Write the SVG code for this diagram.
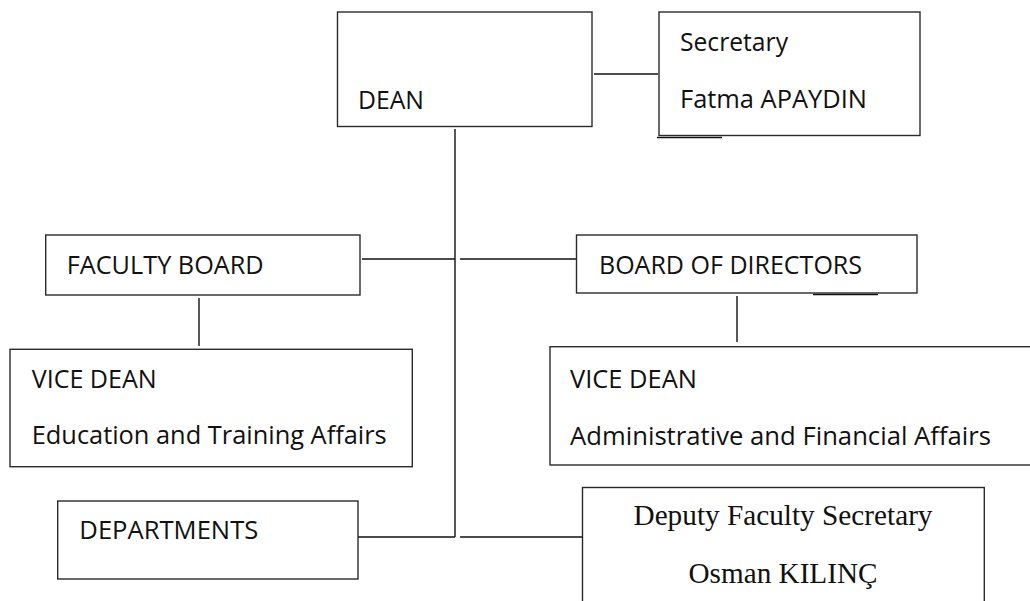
<svg xmlns="http://www.w3.org/2000/svg" width="1030" height="601" viewBox="0 0 1030 601">
<style>
.box{fill:#fff;stroke:#2a2a2a;stroke-width:1.4}
.ln{stroke:#111;stroke-width:1.4;fill:none}
.t{font-family:"Open Sans","Noto Sans","Liberation Sans",sans-serif;font-size:25px;fill:#111}
.s{font-family:"Liberation Serif","Times New Roman",serif;font-size:29px;fill:#111;text-anchor:middle}
</style>
<rect width="1030" height="601" fill="#fff"/>
<g id="connectors">
<line class="ln" x1="594" y1="74" x2="658" y2="74"/>
<line class="ln" x1="455" y1="129" x2="455" y2="537"/>
<line class="ln" x1="362" y1="259" x2="455" y2="259"/>
<line class="ln" x1="460" y1="259" x2="576" y2="259"/>
<line class="ln" x1="199" y1="298" x2="199" y2="346"/>
<line class="ln" x1="737" y1="296" x2="737" y2="342"/>
<line class="ln" x1="358" y1="537" x2="455" y2="537"/>
<line class="ln" x1="460" y1="537" x2="585" y2="537"/>
<line class="ln" x1="657" y1="137.5" x2="722" y2="137.5"/>
<line class="ln" x1="813" y1="294.5" x2="878" y2="294.5"/>
</g>
<g id="dean">
<rect class="box" x="337.5" y="12" width="254.5" height="114.5"/>
<text class="t" x="358" y="109" textLength="66" lengthAdjust="spacingAndGlyphs">DEAN</text>
</g>
<g id="secretary">
<rect class="box" x="659" y="12" width="261" height="123.5"/>
<text class="t" x="680" y="51" textLength="108" lengthAdjust="spacingAndGlyphs">Secretary</text>
<text class="t" x="680" y="108" textLength="187" lengthAdjust="spacingAndGlyphs">Fatma APAYDIN</text>
</g>
<g id="faculty-board">
<rect class="box" x="45.7" y="235" width="314.3" height="60"/>
<text class="t" x="66.7" y="274" textLength="197" lengthAdjust="spacingAndGlyphs">FACULTY BOARD</text>
</g>
<g id="board-of-directors">
<rect class="box" x="576.5" y="235" width="340.5" height="58"/>
<text class="t" x="599" y="274" textLength="263" lengthAdjust="spacingAndGlyphs">BOARD OF DIRECTORS</text>
</g>
<g id="vice-dean-education">
<rect class="box" x="10" y="349.3" width="402.3" height="117.4"/>
<text class="t" x="31.7" y="387.5" textLength="125" lengthAdjust="spacingAndGlyphs">VICE DEAN</text>
<text class="t" x="31.7" y="444" textLength="355" lengthAdjust="spacingAndGlyphs">Education and Training Affairs</text>
</g>
<g id="vice-dean-administrative">
<rect class="box" x="550" y="346.7" width="485" height="118.3"/>
<text class="t" x="570" y="387.5" textLength="127" lengthAdjust="spacingAndGlyphs">VICE DEAN</text>
<text class="t" x="570" y="444.5" textLength="421" lengthAdjust="spacingAndGlyphs">Administrative and Financial Affairs</text>
</g>
<g id="departments">
<rect class="box" x="57.7" y="501" width="300.3" height="78"/>
<text class="t" x="79.3" y="539" textLength="179" lengthAdjust="spacingAndGlyphs">DEPARTMENTS</text>
</g>
<g id="deputy-faculty-secretary">
<rect class="box" x="582.5" y="487.5" width="401.8" height="130"/>
<text class="s" x="783" y="525" textLength="299" lengthAdjust="spacingAndGlyphs">Deputy Faculty Secretary</text>
<text class="s" x="783" y="583" textLength="189" lengthAdjust="spacingAndGlyphs">Osman KILINÇ</text>
</g>
</svg>
